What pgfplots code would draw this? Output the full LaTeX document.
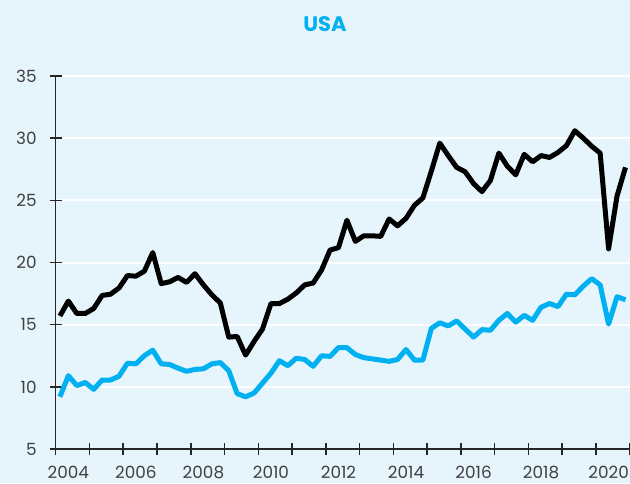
\documentclass[border=0pt]{standalone}
\usepackage{pgfplots}
\pgfplotsset{compat=1.18}
\usepackage{fontspec}
\setmainfont{Poppins}
\definecolor{bg}{HTML}{E6F5FC}
\definecolor{usacyan}{HTML}{00B0F0}
\definecolor{axisgray}{HTML}{262626}
\definecolor{txt}{HTML}{404040}
\pgfplotstableread{
t black cyan
2004.125 15.7 9.2
2004.375 16.9 10.9
2004.625 15.9 10.1
2004.875 15.9 10.35
2005.125 16.3 9.8
2005.375 17.35 10.55
2005.625 17.45 10.55
2005.875 17.95 10.85
2006.125 18.95 11.9
2006.375 18.9 11.85
2006.625 19.3 12.5
2006.875 20.8 12.95
2007.125 18.3 11.85
2007.375 18.45 11.8
2007.625 18.8 11.5
2007.875 18.4 11.25
2008.125 19.1 11.4
2008.375 18.2 11.45
2008.625 17.4 11.85
2008.875 16.75 11.95
2009.125 14.0 11.3
2009.375 14.05 9.45
2009.625 12.55 9.2
2009.875 13.65 9.5
2010.125 14.65 10.3
2010.375 16.7 11.1
2010.625 16.7 12.1
2010.875 17.05 11.7
2011.125 17.55 12.3
2011.375 18.2 12.2
2011.625 18.35 11.65
2011.875 19.4 12.5
2012.125 21.0 12.45
2012.375 21.2 13.15
2012.625 23.4 13.15
2012.875 21.7 12.6
2013.125 22.15 12.35
2013.375 22.15 12.25
2013.625 22.1 12.15
2013.875 23.5 12.05
2014.125 22.95 12.2
2014.375 23.55 13.0
2014.625 24.6 12.15
2014.875 25.2 12.15
2015.125 27.35 14.7
2015.375 29.6 15.15
2015.625 28.6 14.9
2015.875 27.65 15.3
2016.125 27.3 14.65
2016.375 26.35 14.0
2016.625 25.7 14.6
2016.875 26.6 14.55
2017.125 28.8 15.35
2017.375 27.75 15.9
2017.625 27.05 15.2
2017.875 28.7 15.75
2018.125 28.1 15.35
2018.375 28.6 16.4
2018.625 28.45 16.7
2018.875 28.85 16.45
2019.125 29.4 17.45
2019.375 30.6 17.4
2019.625 30.0 18.1
2019.875 29.35 18.7
2020.125 28.8 18.2
2020.375 21.1 15.05
2020.625 25.35 17.25
2020.875 27.65 17.0
}\usadata
\begin{document}
\begin{tikzpicture}
\path[use as bounding box, fill=bg] (-27.85pt,-17pt) rectangle (287.15pt,224.5pt);
\begin{axis}[
  at={(0pt,0pt)}, anchor=south west,
  width=287pt, height=186.5pt, scale only axis,
  xmin=2004, xmax=2021, ymin=5, ymax=35,
  axis x line=bottom, axis y line=left,
  axis line style={-, color=axisgray, line width=0.75pt},
  tick align=center, major tick length=6pt,
  tick style={color=axisgray, line width=0.75pt},
  xtick={2004,2005,...,2021}, xticklabels={},
  extra x ticks={2004.375,2006.375,2008.375,2010.375,2012.375,2014.375,2016.375,2018.375,2020.375},
  extra x tick labels={2004,2006,2008,2010,2012,2014,2016,2018,2020},
  extra x tick style={major tick length=0pt, grid=none,
    xticklabel style={anchor=north, inner sep=0pt, yshift=-8.5pt}},
  ytick={5,10,...,35},
  ymajorgrids, grid style={white, line width=1pt},
  /pgf/number format/assume math mode=true,
  yticklabel style={anchor=east, inner sep=0pt, xshift=-6.35pt},
  ticklabel style={font=\fontsize{8.4}{10}\selectfont, color=txt},
  clip=false,
]
\addplot[black, line width=2.5pt, line join=round] table[x=t, y=black] {\usadata};
\addplot[usacyan, line width=2.5pt, line join=round] table[x=t, y=cyan] {\usadata};
\end{axis}
\node[font=\fontsize{10.5}{12}\selectfont\bfseries, color=usacyan] at (134.65pt,212.25pt) {USA};
\end{tikzpicture}
\end{document}
